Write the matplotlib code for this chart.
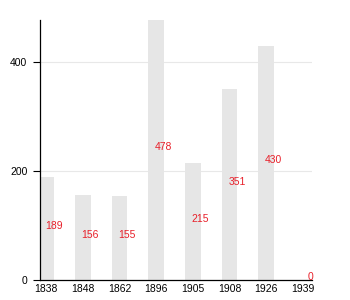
import matplotlib
matplotlib.use("Agg")
import matplotlib.pyplot as plt

# dados
anos = ["1838", "1848", "1862", "1896", "1905", "1908", "1926", "1939"]
valores = [189, 156, 155, 478, 215, 351, 430, 0]
yticks = [0, 200, 400]

plt.rcParams["font.family"] = ["Liberation Sans", "DejaVu Sans"]

fig = plt.figure(figsize=(3.5, 3.0), dpi=100)
ax = fig.add_axes([40 / 350, 20 / 300, 272 / 350, 260 / 300])

pos = list(range(len(anos)))
ax.bar(pos, valores, width=0.43, color="#e6e6e6", zorder=2)

# rótulos vermelhos na metade da barra
for p, v in zip(pos, valores):
    ax.text(p + 0.2, v / 2, str(v), color="#e8202a", fontsize=7.5,
            ha="center", va="baseline", zorder=3)

ax.set_xlim(-0.17, 7.25)
ax.set_ylim(0, 478)
ax.set_xticks(pos)
ax.set_xticklabels(anos)
ax.set_yticks(yticks)

ax.yaxis.grid(True, color="#e8e8e8", linewidth=0.8, zorder=0)
ax.set_axisbelow(True)

for s in ["top", "right"]:
    ax.spines[s].set_visible(False)
ax.spines["left"].set_linewidth(0.9)
ax.spines["bottom"].set_linewidth(0.9)

ax.tick_params(axis="x", length=0, pad=3, labelsize=7.5)
ax.tick_params(axis="y", length=5, width=0.8, pad=4, labelsize=7.5)

fig.savefig("out.png", dpi=100)
